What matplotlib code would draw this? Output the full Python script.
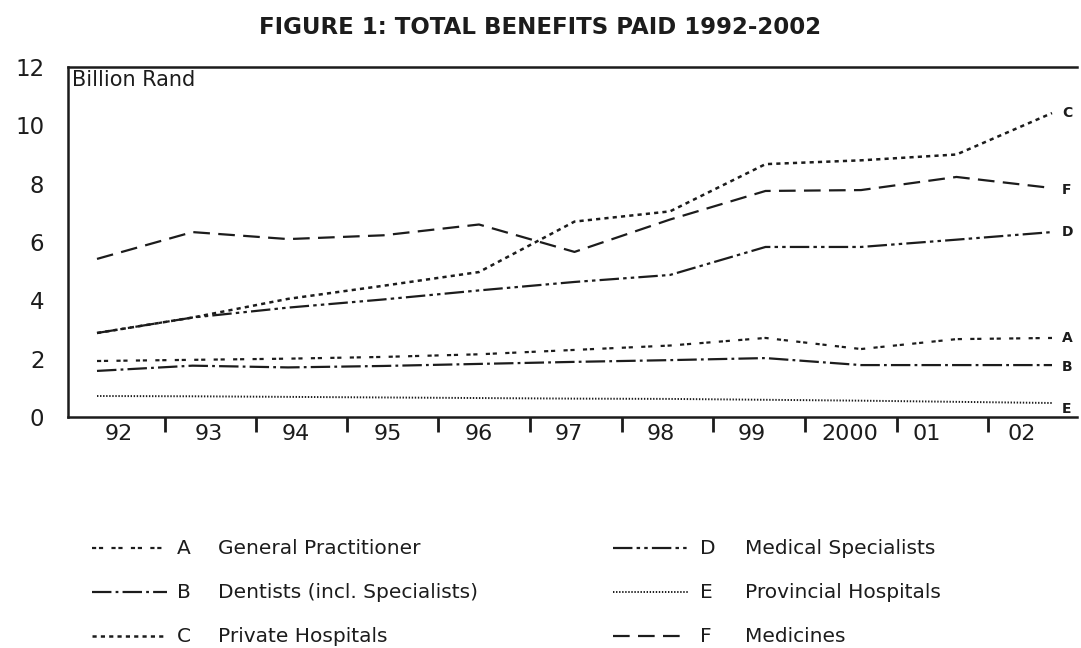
import numpy as np
import matplotlib
matplotlib.use("Agg")
import matplotlib.pyplot as plt
from matplotlib.lines import Line2D

plt.rcParams['lines.scale_dashes'] = False

# ---- data (billion Rand), one point per year 1992..2002 ----
years = ["92", "93", "94", "95", "96", "97", "98", "99", "2000", "01", "02"]
gp = [1.92, 1.96, 2.00, 2.06, 2.15, 2.30, 2.45, 2.71, 2.33, 2.67, 2.71]
dentists = [1.58, 1.76, 1.70, 1.75, 1.82, 1.89, 1.95, 2.02, 1.78, 1.78, 1.78]
private_hosp = [2.88, 3.41, 4.05, 4.50, 4.97, 6.70, 7.05, 8.67, 8.80, 9.00, 10.42]
specialists = [2.88, 3.41, 3.75, 4.03, 4.34, 4.63, 4.87, 5.83, 5.83, 6.08, 6.34]
prov_hosp = [0.72, 0.71, 0.69, 0.67, 0.65, 0.63, 0.62, 0.59, 0.56, 0.52, 0.48]
medicines = [5.42, 6.34, 6.10, 6.23, 6.60, 5.66, 6.77, 7.75, 7.78, 8.23, 7.85]

letters = ["A", "B", "C", "D", "E", "F"]
names = ["General Practitioner", "Dentists (incl. Specialists)", "Private Hospitals",
         "Medical Specialists", "Provincial Hospitals", "Medicines"]
series = [gp, dentists, private_hosp, specialists, prov_hosp, medicines]

styles = [(0, (3.0, 2.0, 3.0, 6.0)),
          (0, (14, 3, 2, 3)),
          (0, (3, 3)),
          (0, (14, 3, 2.5, 3, 2.5, 3)),
          (0, (1.0, 1.2)),
          (0, (12, 6))]
lw = [1.6, 1.6, 1.8, 1.6, 1.4, 1.6]
label_dy = [0.0, -0.07, 0.0, 0.02, -0.22, -0.05]

INK = "#1c1c1c"
FONT = "DejaVu Sans"

W, H = 1081, 648
fig = plt.figure(figsize=(W / 100, H / 100), dpi=100)
fig.patch.set_facecolor("white")

# axes frame in pixels
L, R, T, B = 68, 1077, 67, 417
ax = fig.add_axes([L / W, 1 - B / H, (R - L) / W, (B - T) / H])

x = np.arange(len(years))
# data points span px 97..1052
px0, step = 97.0, 95.5
def u(px):
    return (px - px0) / step

for s, ls, w in zip(series, styles, lw):
    ax.plot(x, s, color=INK, linestyle=ls, linewidth=w, solid_capstyle="butt",
            dash_capstyle="butt")

for s, lt, dy in zip(series, letters, label_dy):
    ax.text(u(1062), s[-1] + dy, lt, fontsize=10, fontweight="bold", color=INK,
            ha="left", va="center", family=FONT)

ax.set_xlim(u(L), u(R))
ax.set_ylim(0, 12)

# y axis
ax.set_yticks(range(0, 13, 2))
ax.tick_params(axis="y", length=0, pad=17, labelsize=16.5, labelcolor=INK)
for t in ax.get_yticklabels():
    t.set_family(FONT)

# x axis: tick marks at category boundaries, labels in between
bounds_px = [165, 256, 347, 438, 530, 622, 713, 805, 897, 988]
label_px = [119, 209, 296, 388, 479, 569, 661, 752, 850, 927, 1022]
ax.set_xticks([u(p) for p in bounds_px])
ax.set_xticklabels([])
ax.tick_params(axis="x", which="major", length=11, width=2, direction="out",
               color=INK)
ax.set_xticks([u(p) for p in label_px], minor=True)
ax.set_xticklabels(years, minor=True)
ax.tick_params(axis="x", which="minor", length=0, pad=5, labelsize=16,
               labelcolor=INK)
for t in ax.get_xticklabels(minor=True):
    t.set_family(FONT)

for side in ["left", "bottom", "top"]:
    ax.spines[side].set_linewidth(1.8)
    ax.spines[side].set_color(INK)
ax.spines["right"].set_visible(False)

ax.text(u(72), 11.55, "Billion Rand", fontsize=15, color=INK, ha="left",
        va="center", family=FONT)

fig.text(0.5, 1 - 27 / H, "FIGURE 1: TOTAL BENEFITS PAID 1992-2002",
         ha="center", va="center", fontsize=16.5, fontweight="bold", color=INK,
         family=["Liberation Sans Narrow", "DejaVu Sans"])

# legend (manual, two columns x three rows)
rows_y = [548, 592, 636]
cols = [(92, 167, 177, 218), (613, 688, 700, 745)]
for i, (lt, nm, ls, w) in enumerate(zip(letters, names, styles, lw)):
    c = cols[i // 3]
    yy = 1 - rows_y[i % 3] / H
    fig.add_artist(Line2D([c[0] / W, c[1] / W], [yy, yy], color=INK,
                          linestyle=ls, linewidth=w, transform=fig.transFigure))
    fig.text(c[2] / W, yy, lt, fontsize=14.5, color=INK, ha="left",
             va="center", family=FONT)
    fig.text(c[3] / W, yy, nm, fontsize=14.5, color=INK, ha="left",
             va="center", family=FONT)

fig.savefig("out.png", dpi=100, facecolor="white")
